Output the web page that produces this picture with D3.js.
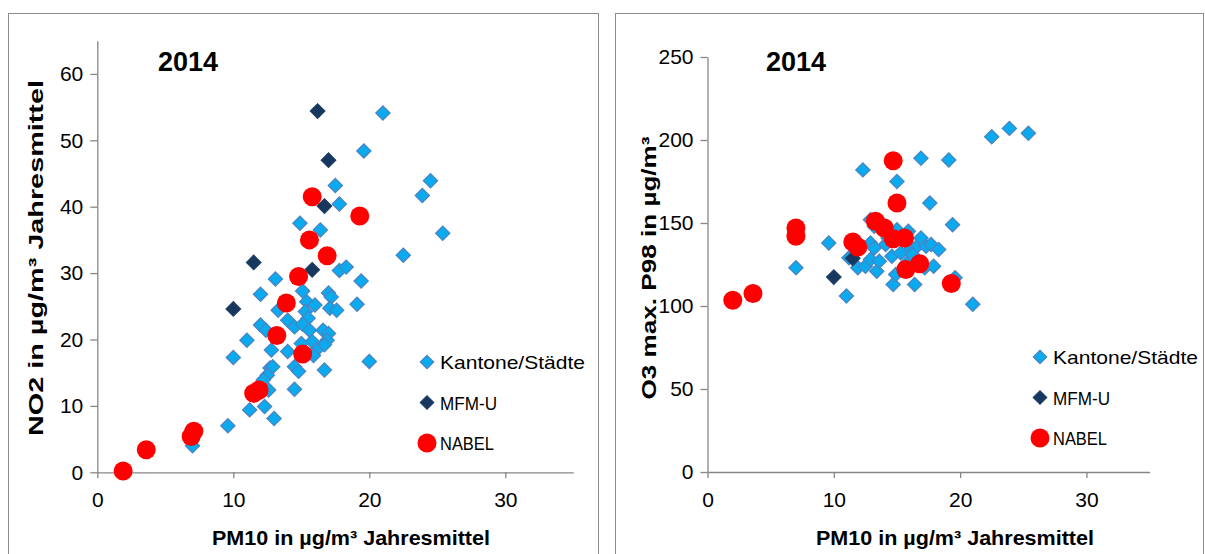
<!DOCTYPE html>
<html><head><meta charset="utf-8">
<script src="https://cdn.jsdelivr.net/npm/d3@7"></script>
<style>body{margin:0;background:#fff;}svg{display:block;font-family:"Liberation Sans",Arial,sans-serif;}</style>
</head><body>
<svg id="c" width="1205" height="554"></svg>
<script>
// ---- Data ----
const yearLabel = "2014";
const seriesNames = ["Kantone/Städte", "MFM-U", "NABEL"];
const xTicks = [0, 10, 20, 30];
const no2Ticks = [0, 10, 20, 30, 40, 50, 60];
const o3Ticks = [0, 50, 100, 150, 200, 250];

// Left chart: PM10 vs NO2
const no2Kantone = [
 [21.0,54.1],[19.6,48.4],[17.5,43.2],[24.5,43.9],[23.9,41.7],[17.8,40.4],[25.4,36.0],[16.4,36.5],
 [14.9,37.5],[22.5,32.7],[17.8,30.4],[18.3,30.9],[19.4,28.8],[13.1,29.1],[15.1,27.3],[12.0,26.8],
 [17.0,27.0],[17.2,26.4],[19.1,25.3],[15.4,25.7],[16.0,25.2],[17.1,24.7],[17.6,24.4],[13.3,24.4],
 [15.3,24.2],[15.5,23.2],[14.0,22.9],[14.5,21.9],[15.1,22.3],[15.6,21.4],[12.0,22.2],[12.4,21.4],
 [16.6,21.4],[17.0,20.9],[16.9,19.9],[16.7,19.2],[15.8,19.7],[15.0,19.4],[11.0,19.9],[12.8,18.4],
 [14.0,18.2],[16.1,18.4],[15.9,17.6],[10.0,17.3],[12.7,15.7],[12.9,15.9],[12.5,14.6],[12.2,13.9],
 [14.5,15.9],[14.8,15.2],[16.7,15.4],[20.0,16.7],[12.6,12.4],[14.5,12.5],[11.2,9.4],[12.3,9.9],
 [13.0,8.1],[9.6,7.0],[7.0,4.0]
];
const no2Mfm = [[16.2,54.4],[17.0,47.0],[16.7,40.1],[15.8,30.5],[11.5,31.6],[10.0,24.6]];
const no2Nabel = [
 [1.9,0.2],[3.6,3.4],[6.9,5.4],[7.1,6.2],[11.5,11.9],[11.9,12.4],[13.2,20.6],[13.9,25.5],
 [14.8,29.5],[15.1,17.8],[15.6,35.0],[15.8,41.5],[16.9,32.6],[19.3,38.6]
];

// Right chart: PM10 vs O3 max P98
const o3Kantone = [
 [22.5,202],[23.9,207],[25.4,204],[12.3,182],[16.9,189],[19.1,188],[15.0,175],[17.6,162],
 [19.4,149],[9.6,138],[7.0,123],[11.0,106],[21.0,101],[14.7,113],[16.4,113],[12.9,152],
 [13.2,148],[12.9,138],[13.2,135],[11.2,129],[11.9,123],[12.5,124],[12.9,128],[13.4,121],
 [13.6,127],[14.1,137],[14.6,130],[15.0,146],[14.9,119],[15.9,145],[16.0,134],[16.6,136],
 [16.9,141],[17.3,136],[17.7,137],[18.3,134],[16.6,128],[17.2,123],[17.9,124],[19.6,117],
 [15.8,126],[15.3,132],[16.2,131],[14.3,141]
];
const o3Mfm = [[10.0,117.4],[11.5,128.7]];
const o3Nabel = [
 [2.0,103.5],[3.6,107.5],[7.0,147],[7.0,142],[11.5,138.5],[11.9,135.5],[13.3,151],[14.0,147],
 [14.7,187.5],[15.0,162],[14.7,140.5],[15.6,141],[15.7,122],[16.8,125.5],[19.3,113.5]
];

// ---- Styles ----
const C_KANT = "#0aaaee", C_KANT_STROKE = "#4b84c4", C_MFM = "#17375e", C_NABEL = "#ff0000";
const AXIS = "#868686";
const legendWidths = [145, 57, 54];

const svg = d3.select("#c");

function panel(cfg) {
  const g = svg.append("g");
  g.append("rect").attr("x", cfg.frame[0] + 0.5).attr("y", cfg.frame[1] + 0.5)
    .attr("width", cfg.frame[2]).attr("height", cfg.frame[3])
    .attr("fill", "none").attr("stroke", "#8c8c8c").attr("stroke-width", 1);

  const x = d3.scaleLinear().domain([0, 35]).range(cfg.xr);
  const y = d3.scaleLinear().domain(cfg.yd).range(cfg.yr);

  const xa = g.append("g").attr("transform", `translate(0,${cfg.yr[0]})`)
    .call(d3.axisBottom(x).tickValues(xTicks).tickSize(6).tickPadding(14).tickSizeOuter(0));
  const ya = g.append("g").attr("transform", `translate(${cfg.xr[0]},0)`)
    .call(d3.axisLeft(y).tickValues(cfg.yTicks).tickSize(7).tickPadding(7).tickSizeOuter(0));
  [xa, ya].forEach(a => {
    a.select(".domain").attr("stroke", AXIS).attr("stroke-width", 1.3);
    a.selectAll(".tick line").attr("stroke", AXIS).attr("stroke-width", 1.3);
    a.selectAll(".tick text").attr("fill", "#000").style("font-size", "21px")
      .style("font-family", "'Liberation Sans',Arial,sans-serif");
  });

  const plot = g.append("g");
  plot.selectAll(".k").data(cfg.kant).join("path")
    .attr("d", d3.symbol().type(d3.symbolSquare).size(100)())
    .attr("transform", d => `translate(${x(d[0])},${y(d[1])}) rotate(45)`)
    .attr("fill", C_KANT).attr("stroke", C_KANT_STROKE).attr("stroke-width", 1.3);
  plot.selectAll(".m").data(cfg.mfm).join("path")
    .attr("d", d3.symbol().type(d3.symbolSquare).size(110)())
    .attr("transform", d => `translate(${x(d[0])},${y(d[1])}) rotate(45)`)
    .attr("fill", C_MFM).attr("stroke", "#1f3f66").attr("stroke-width", 1);
  plot.selectAll(".n").data(cfg.nabel).join("circle")
    .attr("cx", d => x(d[0])).attr("cy", d => y(d[1])).attr("r", 9.5)
    .attr("fill", C_NABEL);

  g.append("text").attr("x", cfg.title[0]).attr("y", cfg.title[1])
    .text(yearLabel).attr("font-weight", "bold").style("font-size", "27px").attr("fill", "#000");

  g.append("text").attr("x", cfg.xlabel[0]).attr("y", cfg.xlabel[1])
    .attr("text-anchor", "middle").attr("font-weight", "bold").style("font-size", "21px")
    .attr("textLength", cfg.xlabel[2]).attr("lengthAdjust", "spacingAndGlyphs")
    .text("PM10 in µg/m³ Jahresmittel");

  g.append("text").attr("transform", `translate(${cfg.ylabel[0]},${cfg.ylabel[1]}) rotate(-90)`)
    .attr("text-anchor", "middle").attr("font-weight", "bold").style("font-size", "21px")
    .attr("textLength", cfg.ylabel[2]).attr("lengthAdjust", "spacingAndGlyphs")
    .text(cfg.ytitle);

  const lg = g.append("g").attr("transform", `translate(${cfg.legend[0]},${cfg.legend[1]})`);
  const items = lg.selectAll("g").data(seriesNames).join("g")
    .attr("transform", (d, i) => `translate(0,${i * 40.5})`);
  items.each(function(d, i) {
    const s = d3.select(this);
    if (i < 2) {
      s.append("path").attr("d", d3.symbol().type(d3.symbolSquare).size(90)())
        .attr("transform", "rotate(45)")
        .attr("fill", i === 0 ? C_KANT : C_MFM)
        .attr("stroke", i === 0 ? C_KANT_STROKE : "#1f3f66").attr("stroke-width", 1.2);
    } else {
      s.append("circle").attr("r", 9.5).attr("fill", C_NABEL);
    }
    s.append("text").attr("x", 13).attr("y", 7).text(d)
      .style("font-size", "19px").attr("fill", "#000")
      .attr("textLength", legendWidths[i]).attr("lengthAdjust", "spacingAndGlyphs");
  });
}

panel({
  frame: [8, 13, 590, 560],
  xr: [97.3, 573.3], yd: [0, 65], yr: [472.3, 40.7], yTicks: no2Ticks,
  kant: no2Kantone, mfm: no2Mfm, nabel: no2Nabel,
  title: [158, 71], xlabel: [351, 545, 278], ylabel: [43, 258, 356],
  ytitle: "NO2 in µg/m³ Jahresmittel",
  legend: [427, 362]
});
panel({
  frame: [615, 13, 588, 560],
  xr: [707.5, 1149.6], yd: [0, 250], yr: [472, 57], yTicks: o3Ticks,
  kant: o3Kantone, mfm: o3Mfm, nabel: o3Nabel,
  title: [766, 71], xlabel: [955, 545, 278], ylabel: [656, 268, 263],
  ytitle: "O3 max. P98 in µg/m³",
  legend: [1040, 357]
});
</script>
</body></html>
